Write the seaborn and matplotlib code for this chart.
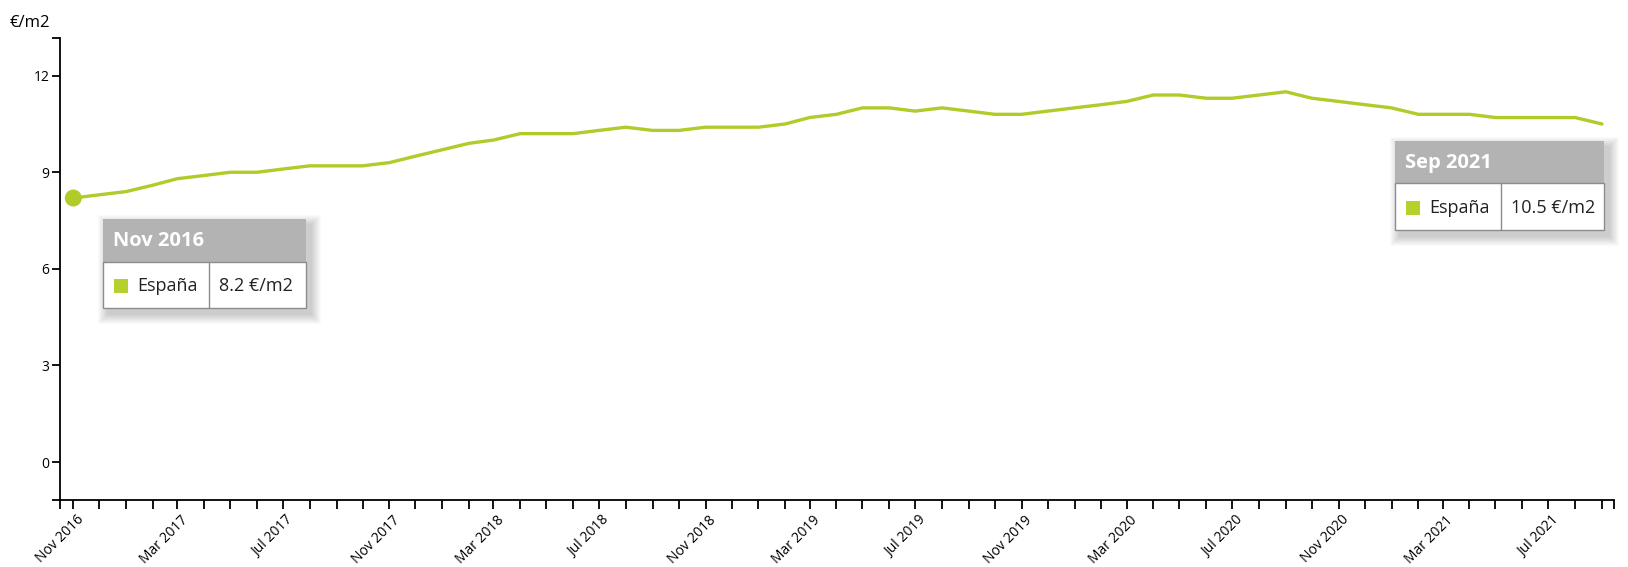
import matplotlib
matplotlib.use("Agg")
import matplotlib.pyplot as plt
import matplotlib.dates as mdates
from matplotlib.patches import Rectangle
from matplotlib.lines import Line2D
from matplotlib.transforms import ScaledTranslation
import pandas as pd
import seaborn as sns

# ---------------- data ----------------
month_start = "2016-11-01"
values = [8.2, 8.3, 8.4, 8.6, 8.8, 8.9, 9.0, 9.0, 9.1, 9.2, 9.2, 9.2,
          9.3, 9.5, 9.7, 9.9, 10.0, 10.2, 10.2, 10.2, 10.3, 10.4, 10.3, 10.3,
          10.4, 10.4, 10.4, 10.5, 10.7, 10.8, 11.0, 11.0, 10.9, 11.0, 10.9, 10.8,
          10.8, 10.9, 11.0, 11.1, 11.2, 11.4, 11.4, 11.3, 11.3, 11.4, 11.5, 11.3,
          11.2, 11.1, 11.0, 10.8, 10.8, 10.8, 10.7, 10.7, 10.7, 10.7, 10.5]
tick_labels = ["Nov 2016", "Mar 2017", "Jul 2017", "Nov 2017", "Mar 2018",
               "Jul 2018", "Nov 2018", "Mar 2019", "Jul 2019", "Nov 2019",
               "Mar 2020", "Jul 2020", "Nov 2020", "Mar 2021", "Jul 2021"]
y_ticks = [0, 3, 6, 9, 12]
unit = "€/m2"
series_name = "España"
first_label = "Nov 2016"
last_label = "Sep 2021"

line_color = "#b1cb2a"
square_color = "#b5d22c"

dates = pd.date_range(month_start, periods=len(values), freq="MS")
df = pd.DataFrame({"fecha": dates, "precio": values})

# ---------------- figure ----------------
sns.set_theme(style="ticks")
plt.rcParams["font.family"] = ["Open Sans", "DejaVu Sans"]

W, H = 1628, 567
fig = plt.figure(figsize=(W / 100, H / 100), dpi=100)
fig.patch.set_facecolor("white")
ax_left, ax_right, ax_top, ax_bottom = 60, 1614, 37.7, 500
ax = fig.add_axes([ax_left / W, 1 - ax_bottom / H,
                   (ax_right - ax_left) / W, (ax_bottom - ax_top) / H])
ax.set_facecolor("white")

sns.lineplot(data=df, x="fecha", y="precio", ax=ax, color=line_color,
             linewidth=2.4, zorder=3)
sns.scatterplot(data=df.iloc[:1], x="fecha", y="precio", ax=ax,
                color=line_color, s=150, edgecolor="none", zorder=5)
ax.set_xlabel("")
ax.set_ylabel("")

# x limits (time scale)
x0 = mdates.date2num(dates[0])
x1 = mdates.date2num(dates[-1])
px_first, px_last = 73.3, 1602
per_px = (x1 - x0) / (px_last - px_first)
xl = x0 - (px_first - ax_left) * per_px
xr = x1 + (ax_right - px_last) * per_px
ax.set_xlim(xl, xr)
ylo, yhi = -1.18, 13.18
ax.set_ylim(ylo, yhi)

# ticks
major_x = [mdates.date2num(d) for d in dates[::4]]
ax.set_xticks(major_x)
ax.set_xticklabels(tick_labels[:len(major_x)])
ax.set_xticks([mdates.date2num(d) for d in dates] + [xl, xr], minor=True)
ax.set_yticks(y_ticks)
ax.set_yticklabels([str(v) for v in y_ticks])
ax.set_yticks([ylo, yhi], minor=True)

ax.tick_params(axis="x", which="both", direction="out", length=6.5,
               width=1.3, color="black", bottom=True)
ax.tick_params(axis="x", which="major", labelsize=10, labelcolor="black",
               pad=2.5, labelrotation=45)
ax.tick_params(axis="y", which="both", direction="out", length=6.1,
               width=1.3, color="black", left=True)
ax.tick_params(axis="y", which="major", labelsize=10, labelcolor="black",
               pad=1.5)
offset = ScaledTranslation(3 / 100, 0, fig.dpi_scale_trans)
for lab in ax.get_xticklabels():
    lab.set_ha("right")
    lab.set_va("top")
    lab.set_rotation_mode("anchor")
    lab.set_transform(lab.get_transform() + offset)

for s in ["top", "right"]:
    ax.spines[s].set_visible(False)
for s in ["left", "bottom"]:
    ax.spines[s].set_color("black")
    ax.spines[s].set_linewidth(1.3)

fig.text(10 / W, 1 - 23 / H, unit, fontsize=12, ha="left", va="center",
         color="black")


# ---------------- tooltips ----------------
def frect(x, y, w, h, **kw):
    r = Rectangle((x / W, 1 - (y + h) / H), w / W, h / H,
                  transform=fig.transFigure, **kw)
    fig.add_artist(r)
    return r


def tooltip(x, y, w, hh, bh, div, title, name, val):
    for i in range(10):
        d = i + 1
        frect(x - d + 5, y - d + 6, w + 2 * d, hh + bh + 2 * d,
              facecolor="black", edgecolor="none", alpha=0.02, zorder=8)
    frect(x, y, w, hh, facecolor="#b3b3b3", edgecolor="none", zorder=9)
    frect(x, y + hh, w, bh, facecolor="white", edgecolor="#8c8c8c",
          linewidth=1.0, zorder=9)
    fig.add_artist(Line2D([div / W, div / W],
                          [1 - (y + hh) / H, 1 - (y + hh + bh) / H],
                          transform=fig.transFigure, color="#8c8c8c",
                          linewidth=1.0, zorder=10))
    fig.text((x + 10) / W, 1 - (y + hh / 2 + 1) / H, title, color="white",
             fontsize=14.5, fontweight="bold", ha="left", va="center", zorder=11)
    cy = y + hh + bh / 2 + 1
    frect(x + 11, cy - 7, 14, 14, facecolor=square_color, edgecolor="none",
          zorder=11)
    fig.text((x + 34) / W, 1 - cy / H, name, color="#222222", fontsize=13,
             ha="left", va="center", zorder=11)
    fig.text((div + 10) / W, 1 - cy / H, val, color="#222222", fontsize=13,
             ha="left", va="center", zorder=11)


tooltip(103.3, 219, 202.4, 42.7, 46, 209.3, first_label, series_name,
        f"{values[0]} {unit}")
tooltip(1395, 141, 209, 42.3, 46.7, 1501, last_label, series_name,
        f"{values[-1]} {unit}")

fig.savefig("out.png", dpi=100, facecolor="white")
